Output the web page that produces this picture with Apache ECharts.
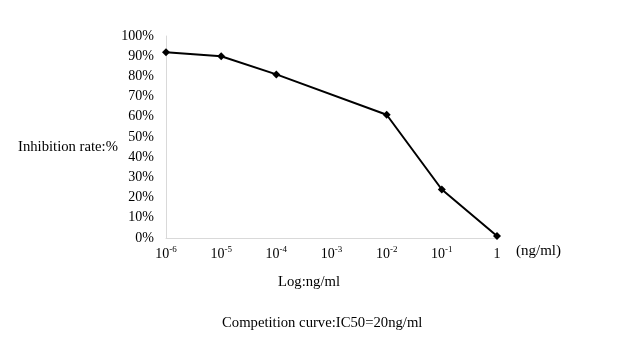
<!DOCTYPE html>
<html>
<head>
<meta charset="utf-8">
<script src="https://cdn.jsdelivr.net/npm/echarts@6/dist/echarts.min.js"></script>
<style>html,body{margin:0;padding:0;background:#fff}#c{width:620px;height:360px}</style>
</head>
<body>
<div id="c"></div>
<script>
var categories = ['1e-6', '1e-5', '1e-4', '1e-3', '1e-2', '1e-1', '1'];
var tickBase = ['10', '10', '10', '10', '10', '10', '1'];
var tickExp = ['-6', '-5', '-4', '-3', '-2', '-1', ''];
var inhibition = [92, 90, 81, null, 61, 24, 1];
var yTicks = [0, 10, 20, 30, 40, 50, 60, 70, 80, 90, 100];

var FONT = '"Liberation Serif", "Times New Roman", serif';
var chart = echarts.init(document.getElementById('c'), null, {renderer: 'canvas'});
chart.setOption({
  backgroundColor: '#ffffff',
  animation: false,
  grid: {left: 166, right: 123, top: 36, bottom: 122, containLabel: false},
  xAxis: {
    type: 'category',
    data: categories,
    boundaryGap: false,
    axisLine: {lineStyle: {color: '#d9d9d9', width: 1}},
    axisTick: {show: false},
    splitLine: {show: false},
    axisLabel: {
      margin: 7,
      interval: 0,
      formatter: function (v, i) {
        return tickExp[i] ? '{b|' + tickBase[i] + '}{s|' + tickExp[i] + '}' : '{b|' + tickBase[i] + '}';
      },
      rich: {
        b: {fontFamily: FONT, fontSize: 14, color: '#000', lineHeight: 16, verticalAlign: 'bottom'},
        s: {fontFamily: FONT, fontSize: 9, color: '#000', lineHeight: 16, verticalAlign: 'top', padding: [0, 0, 6, 0]}
      }
    }
  },
  yAxis: {
    type: 'value',
    min: 0, max: 100, interval: 10,
    axisLine: {show: true, lineStyle: {color: '#d9d9d9', width: 1}},
    axisTick: {show: false},
    splitLine: {show: false},
    axisLabel: {
      margin: 12,
      fontFamily: FONT, fontSize: 14, color: '#000',
      formatter: function (v) { return yTicks.indexOf(v) >= 0 ? v + '%' : ''; }
    }
  },
  series: [{
    type: 'line',
    data: inhibition,
    connectNulls: true,
    symbol: 'diamond',
    symbolSize: 8,
    lineStyle: {color: '#000', width: 2},
    itemStyle: {color: '#000'}
  }],
  graphic: [
    {type: 'text', left: 18, top: 140, style: {text: 'Inhibition rate:%', font: '14.7px ' + FONT, fill: '#000'}},
    {type: 'text', left: 516, top: 244, style: {text: '(ng/ml)', font: '15px ' + FONT, fill: '#000'}},
    {type: 'text', left: 278, top: 275, style: {text: 'Log:ng/ml', font: '14.7px ' + FONT, fill: '#000'}},
    {type: 'text', left: 222, top: 316, style: {text: 'Competition curve:IC50=20ng/ml', font: '14.7px ' + FONT, fill: '#000'}}
  ]
});
</script>
</body>
</html>
